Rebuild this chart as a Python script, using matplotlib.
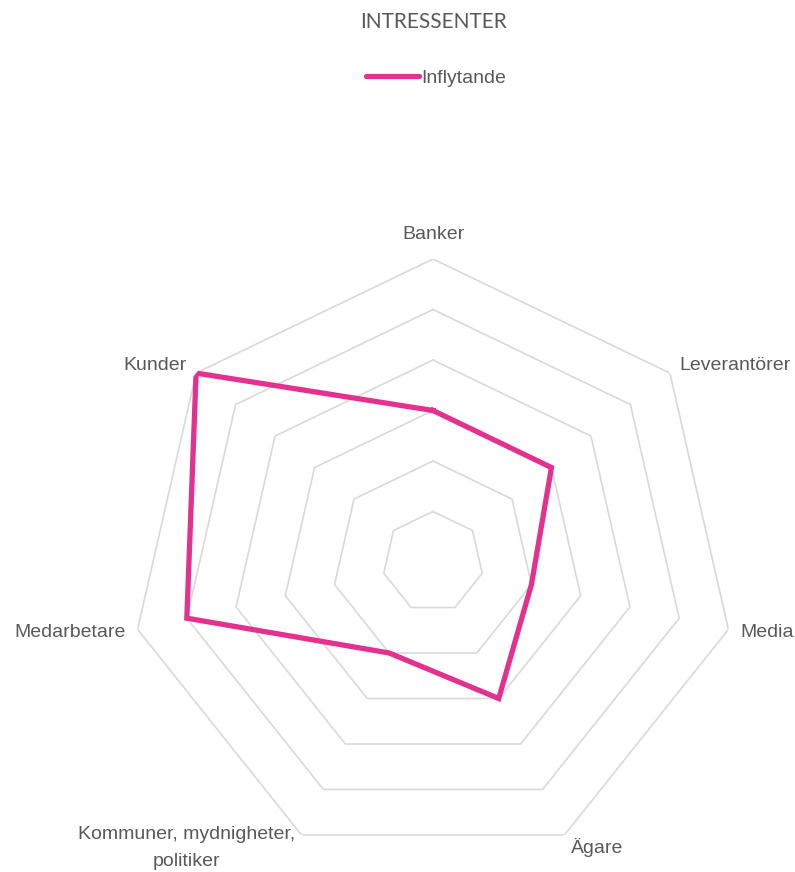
import numpy as np
import matplotlib
matplotlib.use("Agg")
import matplotlib.pyplot as plt
from matplotlib.lines import Line2D

categories = ["Banker", "Leverantörer", "Media", "Ägare",
              "Kommuner, mydnigheter,\npolitiker", "Medarbetare", "Kunder"]
inflytande = [3, 3, 2, 3, 2, 5, 6]
ring_levels = [1, 2, 3, 4, 5, 6]
series_name = "Inflytande"
title = "INTRESSENTER"

pink = "#E2318F"
grid_c = "#D9D9D9"
text_c = "#595959"
label_font = ["Liberation Sans Narrow", "Liberation Sans", "DejaVu Sans"]

fig = plt.figure(figsize=(7.95, 8.72), dpi=100)
ax = fig.add_axes([130/795, 7/872, 606/795, 606/872], projection="polar")
ax.set_theta_zero_location("N")
ax.set_theta_direction(-1)
ax.set_ylim(0, 6)
ax.grid(False)
ax.set_xticks([])
ax.set_yticks([])
ax.spines["polar"].set_visible(False)
ax.patch.set_alpha(0)

n = len(categories)
angles = np.arange(n) * 2 * np.pi / n
closed = np.concatenate([angles, angles[:1]])

for lvl in ring_levels:
    ax.plot(closed, [lvl] * (n + 1), color=grid_c, lw=1.2, zorder=1)

vals = inflytande + inflytande[:1]
ax.plot(closed, vals, color=pink, lw=3.8, solid_joinstyle="miter", zorder=3)

# category labels
for i, (a, lab) in enumerate(zip(angles, categories)):
    s = np.sin(a)
    c = np.cos(a)
    if abs(s) < 0.05:
        ha = "center"
    elif s > 0:
        ha = "left"
    else:
        ha = "right"
    if c > 0.95:
        va, r = "bottom", 6.32
    elif c < -0.5:
        va, r = "center", 6.28
    else:
        va, r = "center", 6.24
    ax.text(a, r, lab, ha=ha, va=va, fontsize=14, color=text_c,
            family=label_font, linespacing=1.75, multialignment="center",
            clip_on=False)

fig.text(433/795, 1 - 22/872, title, ha="center", va="center",
         fontsize=15, color=text_c, family=["Lato", "DejaVu Sans"])

handle = Line2D([], [], color=pink, lw=3.8, solid_capstyle="round")
fig.legend([handle], [series_name], loc="center", bbox_to_anchor=(436/795, 1 - 78/872),
           frameon=False, prop={"family": label_font, "size": 14},
           labelcolor=text_c, handlelength=2.75, handletextpad=0.1)

fig.savefig("out.png", dpi=100)
